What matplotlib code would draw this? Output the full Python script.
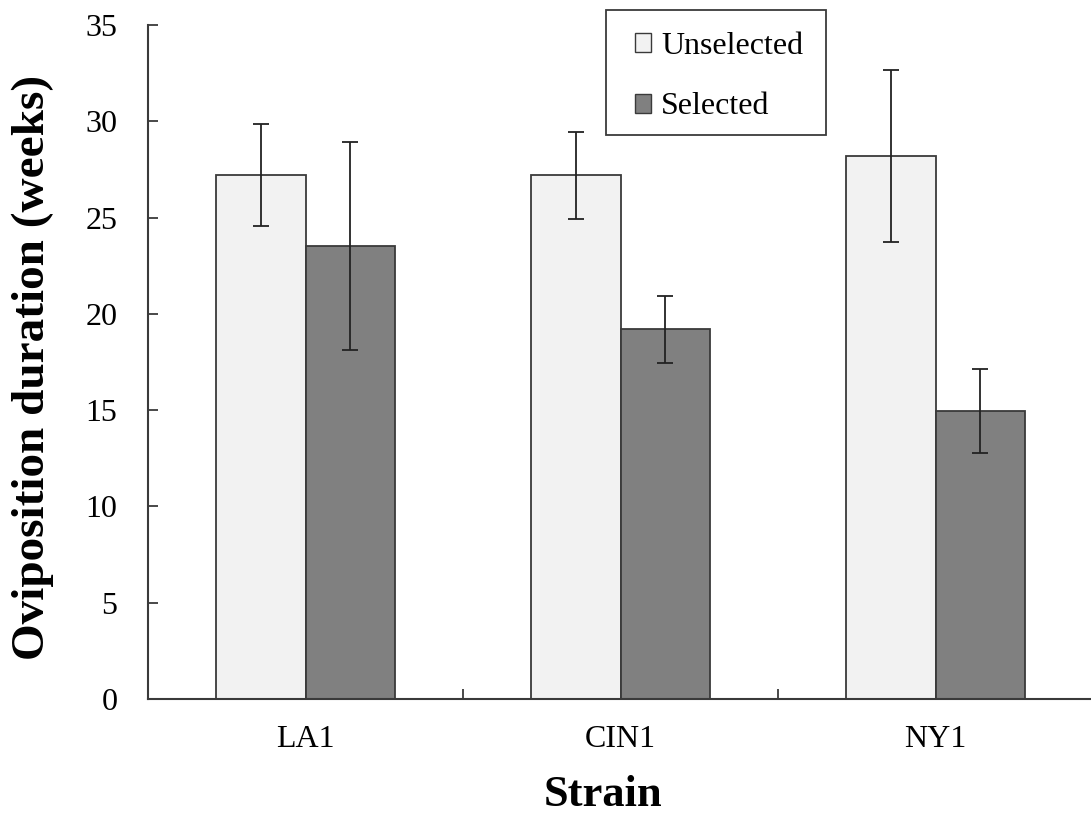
import matplotlib
matplotlib.use("Agg")
import matplotlib.pyplot as plt
from matplotlib.patches import Rectangle, Patch
import numpy as np

# Data
strains = ["LA1", "CIN1", "NY1"]
unselected = [27.2, 27.2, 28.2]
unselected_err = [2.65, 2.25, 4.45]
selected = [23.5, 19.2, 14.95]
selected_err = [5.4, 1.75, 2.2]
series_labels = ["Unselected", "Selected"]
y_ticks = [0, 5, 10, 15, 20, 25, 30, 35]

plt.rcParams["font.family"] = ["Liberation Serif", "DejaVu Serif"]

W, H = 1091, 815
fig = plt.figure(figsize=(W / 100, H / 100), dpi=100)
ax = fig.add_axes([148 / W, (H - 699) / H, 945 / W, 674 / H])

edge = "#3a3a3a"
light = "#f2f2f2"
dark = "#808080"
bw = 0.2857
x = np.arange(len(strains))

ax.bar(x - bw / 2, unselected, width=bw, color=light, edgecolor=edge, linewidth=1.3, zorder=2)
ax.bar(x + bw / 2, selected, width=bw, color=dark, edgecolor=edge, linewidth=1.3, zorder=2)
ekw = dict(fmt="none", ecolor="#222222", elinewidth=1.3, capsize=5.5, capthick=1.3, zorder=3)
ax.errorbar(x - bw / 2, unselected, yerr=unselected_err, **ekw)
ax.errorbar(x + bw / 2, selected, yerr=selected_err, **ekw)

ax.set_xlim(-0.5, len(strains) - 0.5)
ax.set_ylim(0, 35)
ax.set_yticks(y_ticks)
ax.set_xticks(x)
ax.set_xticklabels(strains)
ax.set_xticks(np.arange(len(strains) - 1) + 0.5, minor=True)

for side in ("top", "right"):
    ax.spines[side].set_visible(False)
for side in ("left", "bottom"):
    ax.spines[side].set_color(edge)
    ax.spines[side].set_linewidth(1.5)

ax.tick_params(axis="y", direction="in", length=7, width=1.3, color=edge,
               labelsize=23, pad=22)
ax.tick_params(axis="x", which="major", length=0, labelsize=23, pad=19)
ax.tick_params(axis="x", which="minor", direction="in", length=7, width=1.3, color=edge)

ax.set_ylabel("Oviposition duration (weeks)", fontsize=34, fontweight="bold",
              va="center")
ax.yaxis.set_label_coords(-0.1217, 0.4926)
ax.set_xlabel("Strain", fontsize=32, fontweight="bold")
ax.xaxis.set_label_coords(0.481, -0.142)
ax.xaxis.label.set_verticalalignment("center")

# Legend box
fig.patches.append(Rectangle((606 / W, (H - 135) / H), 220 / W, 125 / H,
                             transform=fig.transFigure, facecolor="white",
                             edgecolor=edge, linewidth=1.3, zorder=5))
handles = [Patch(facecolor=light, edgecolor=edge, linewidth=1.0),
           Patch(facecolor=dark, edgecolor=edge, linewidth=1.0)]
leg = fig.legend(handles, series_labels, loc="upper left",
                 bbox_to_anchor=(609 / W, (H - 6) / H), frameon=False,
                 fontsize=23, handlelength=0.53, handleheight=0.53,
                 handletextpad=0.3, labelspacing=1.0, borderpad=0.3)
leg.set_zorder(6)

fig.savefig("out.png", dpi=100)
